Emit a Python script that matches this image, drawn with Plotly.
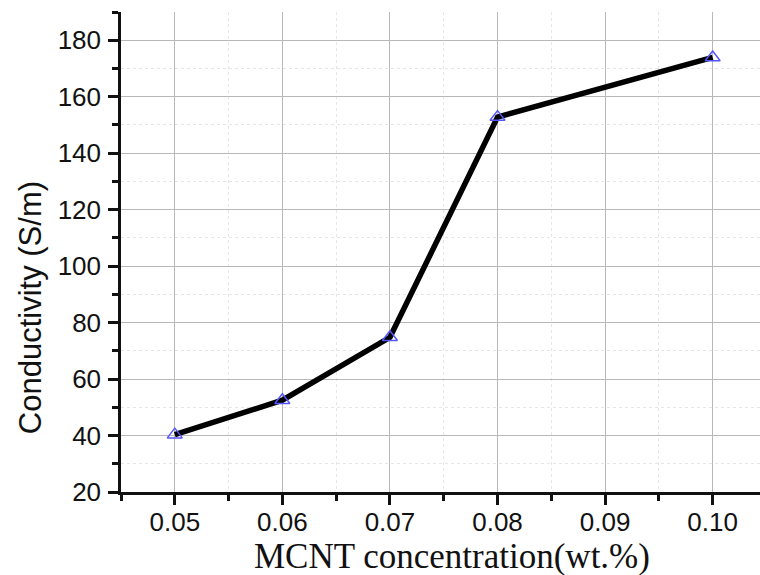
import plotly.graph_objects as go

# MCNT loading vs. measured conductivity
mcnt_wt = [0.05, 0.06, 0.07, 0.08, 0.10]
conductivity = [40.3, 52.5, 74.8, 152.8, 173.9]

x_ticks = [0.05, 0.06, 0.07, 0.08, 0.09, 0.10]
x_tick_text = ["0.05", "0.06", "0.07", "0.08", "0.09", "0.10"]
y_ticks = [20, 40, 60, 80, 100, 120, 140, 160, 180]

fig = go.Figure()
fig.add_trace(go.Scatter(
    x=mcnt_wt, y=conductivity,
    mode="lines+markers",
    line=dict(color="black", width=5.5),
    marker=dict(symbol="triangle-up-open", size=13, color="#5555ff",
                line=dict(width=1.4, color="#5555ff")),
    showlegend=False,
))

axis_font = dict(family="Liberation Sans, Arial", size=26, color="#111111")

fig.update_xaxes(
    range=[0.045, 0.1044],
    tickvals=x_ticks, ticktext=x_tick_text,
    ticks="outside", ticklen=10, tickwidth=2.5, tickcolor="#111111",
    tickfont=axis_font, ticklabelstandoff=-5,
    showline=True, linecolor="#111111", linewidth=2.5,
    showgrid=True, gridcolor="#b8b8b8", gridwidth=1.3,
    minor=dict(dtick=0.005, tick0=0.045, ticks="outside", ticklen=6, tickwidth=2.5,
               tickcolor="#111111", showgrid=True, gridcolor="#e6e6e6",
               griddash="dot", gridwidth=1),
    zeroline=False,
)
fig.update_yaxes(
    range=[20, 190],
    tickvals=y_ticks,
    ticks="outside", ticklen=10, tickwidth=2.5, tickcolor="#111111",
    tickfont=axis_font, ticklabelstandoff=2,
    showline=True, linecolor="#111111", linewidth=2.5,
    showgrid=True, gridcolor="#b8b8b8", gridwidth=1.3,
    minor=dict(dtick=10, tick0=20, ticks="outside", ticklen=6, tickwidth=2.5,
               tickcolor="#111111", showgrid=True, gridcolor="#e6e6e6",
               griddash="dot", gridwidth=1),
    zeroline=False,
)

# Axis titles placed as annotations so they can sit off-centre
fig.add_annotation(
    text="Conductivity (S/m)", textangle=-90,
    xref="paper", yref="paper", x=-0.1424, y=0.383,
    xanchor="center", yanchor="middle", showarrow=False,
    font=dict(family="Liberation Sans, Arial", size=31, color="#111111"),
)
fig.add_annotation(
    text="MCNT concentration(wt.%)",
    xref="paper", yref="paper", x=0.518, y=-0.135,
    xanchor="center", yanchor="middle", showarrow=False,
    font=dict(family="Liberation Serif, Times New Roman", size=35, color="#111111"),
)

fig.update_layout(
    width=760, height=575,
    margin=dict(l=121, r=0, t=12, b=83),
    plot_bgcolor="white", paper_bgcolor="white",
)

fig.write_html("out.html")
